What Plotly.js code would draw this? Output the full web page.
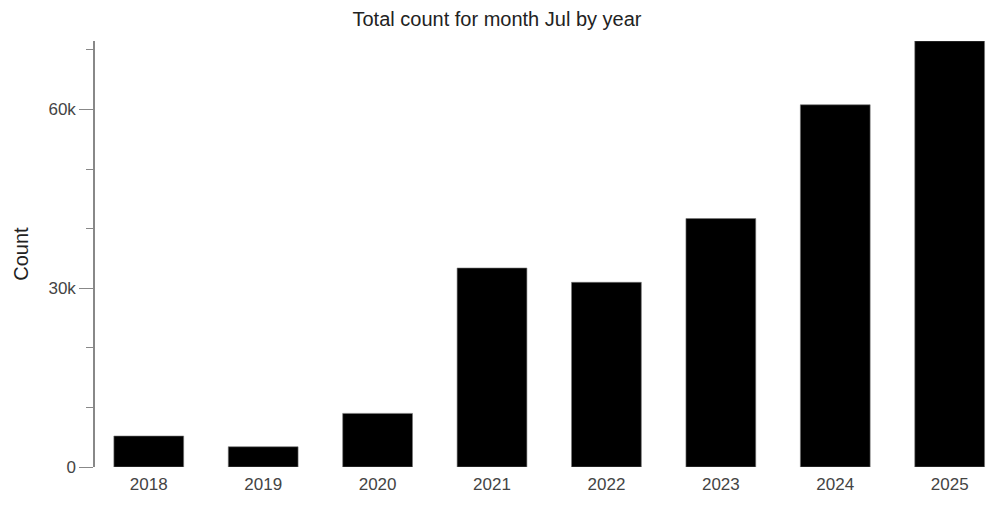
<!DOCTYPE html>
<html>
<head>
<meta charset="utf-8">
<script src="https://cdn.plot.ly/plotly-3.0.1.min.js"></script>
<style>
  html, body { margin: 0; padding: 0; background: #fff; }
  #chart { width: 1000px; height: 509px; }
</style>
</head>
<body>
<div id="chart"></div>
<script>
// July totals per year
var years = ['2018', '2019', '2020', '2021', '2022', '2023', '2024', '2025'];
var counts = [5200, 3400, 9000, 33400, 31000, 41700, 60800, 71500];

var trace = {
  x: years,
  y: counts,
  type: 'bar',
  marker: { color: '#000', line: { color: '#777', width: 0.6 } },
  hoverinfo: 'x+y'
};

var layout = {
  width: 1000,
  height: 509,
  margin: { t: 41, b: 42, l: 95, r: 8 },
  paper_bgcolor: '#fff',
  plot_bgcolor: '#fff',
  font: { family: 'Liberation Sans, Arial, sans-serif', color: '#333' },
  title: {
    text: 'Total count for month Jul by year',
    font: { size: 20, color: '#222' },
    x: 0.497, xanchor: 'center',
    y: 0.962, yanchor: 'middle'
  },
  bargap: 0.39,
  xaxis: {
    type: 'category',
    range: [-0.47, 7.37],
    showline: false,
    showgrid: false,
    zeroline: false,
    ticks: '',
    ticklabelstandoff: 5,
    tickfont: { size: 17, color: '#444' }
  },
  yaxis: {
    range: [0, 71500],
    showline: true,
    linecolor: '#888',
    linewidth: 1.5,
    showgrid: false,
    zeroline: false,
    ticks: 'outside',
    ticklen: 14,
    tickwidth: 1.2,
    tickcolor: '#888',
    dtick: 30000,
    tickformat: '~s',
    tickfont: { size: 17, color: '#444' },
    minor: { dtick: 10000, ticks: 'outside', ticklen: 7, tickcolor: '#888', tickwidth: 1.2 },
    title: { text: 'Count', font: { size: 20, color: '#222' }, standoff: 14 }
  },
  showlegend: false
};

Plotly.newPlot('chart', [trace], layout, { displayModeBar: false });
</script>
</body>
</html>
